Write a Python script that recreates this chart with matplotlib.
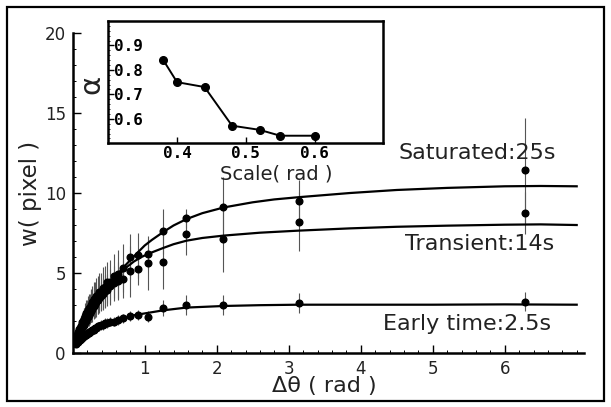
import matplotlib
matplotlib.use("Agg")
import matplotlib.pyplot as plt
from matplotlib.patches import Rectangle
from matplotlib.ticker import MultipleLocator, FormatStrFormatter

plt.rcParams["font.family"] = ["DejaVu Sans", "Noto Sans CJK SC"]

# ---- data ----
# sparse scales (rad) and the dense cluster near zero
x_sparse = [6.28, 3.14, 2.09, 1.57, 1.26, 1.05, 0.90, 0.79]
x_dense = [0.70, 0.63, 0.57, 0.52, 0.48, 0.45, 0.42, 0.39, 0.37, 0.35,
           0.33, 0.31, 0.30, 0.29, 0.27, 0.26, 0.25, 0.24, 0.23, 0.22,
           0.21, 0.20, 0.19, 0.18, 0.17, 0.16, 0.15, 0.14, 0.13, 0.12,
           0.11, 0.10, 0.09, 0.08, 0.07, 0.06, 0.05, 0.04]

sat_sparse = [11.4, 9.5, 9.1, 8.4, 7.6, 6.15, 6.1, 6.0]
sat_sparse_err = [3.3, 1.3, 1.9, 0.6, 1.4, 0.9, 1.4, 1.4]
sat_dense = [5.3, 4.9, 4.8, 4.4, 4.4, 4.1, 4.05, 3.8, 3.8, 3.6,
             3.55, 3.3, 3.35, 3.15, 3.15, 2.95, 3.0, 2.8, 2.8, 2.65,
             2.65, 2.5, 2.5, 2.3, 2.3, 2.1, 2.1, 1.9, 1.9, 1.7,
             1.7, 1.5, 1.5, 1.3, 1.25, 1.1, 1.0, 0.85]
sat_dense_err = [1.5, 1.5, 1.4, 1.4, 1.3, 1.3, 1.3, 1.2, 1.2, 1.2,
                 1.1, 1.1, 1.1, 1.0, 1.0, 1.0, 1.0, 0.9, 0.9, 0.9,
                 0.9, 0.8, 0.8, 0.8, 0.8, 0.7, 0.7, 0.7, 0.6, 0.6,
                 0.6, 0.5, 0.5, 0.5, 0.4, 0.4, 0.4, 0.3]

trans_sparse = [8.75, 8.2, 7.1, 7.4, 5.7, 5.6, 5.25, 5.1]
trans_sparse_err = [1.3, 1.85, 2.05, 1.3, 1.7, 1.7, 1.0, 1.6]
trans_dense = [4.6, 4.5, 4.35, 4.15, 3.95, 3.85, 3.65, 3.55, 3.4, 3.3,
               3.15, 3.05, 2.95, 2.9, 2.75, 2.65, 2.6, 2.5, 2.4, 2.35,
               2.25, 2.2, 2.1, 2.0, 1.95, 1.85, 1.75, 1.65, 1.6, 1.5,
               1.4, 1.3, 1.25, 1.15, 1.05, 0.95, 0.85, 0.75]
trans_dense_err = [1.2, 1.2, 1.1, 1.1, 1.0, 1.0, 1.0, 0.9, 0.9, 0.9,
                   0.9, 0.8, 0.8, 0.8, 0.8, 0.7, 0.7, 0.7, 0.7, 0.6,
                   0.6, 0.6, 0.6, 0.5, 0.5, 0.5, 0.5, 0.4, 0.4, 0.4,
                   0.4, 0.3, 0.3, 0.3, 0.3, 0.3, 0.2, 0.2]

early_sparse = [3.2, 3.1, 2.98, 2.98, 2.77, 2.25, 2.36, 2.3]
early_sparse_err = [0.57, 0.62, 0.6, 0.6, 0.5, 0.35, 0.3, 0.3]
early_dense = [2.15, 2.05, 1.95, 1.95, 1.85, 1.85, 1.75, 1.75, 1.65, 1.65,
               1.55, 1.55, 1.5, 1.45, 1.42, 1.38, 1.36, 1.32, 1.3, 1.26,
               1.23, 1.2, 1.16, 1.13, 1.1, 1.06, 1.02, 0.98, 0.94, 0.9,
               0.86, 0.82, 0.78, 0.74, 0.7, 0.65, 0.6, 0.55]
early_dense_err = [0.3] * 10 + [0.25] * 14 + [0.2] * 14

# fitted curves
sat_fit_x = [0, 0.02, 0.05, 0.1, 0.19, 0.3, 0.45, 0.6, 0.75, 0.9, 1.0, 1.1,
             1.26, 1.4, 1.58, 1.8, 2.1, 2.5, 2.8, 3.14, 3.85, 4.5, 5.2, 6.0, 6.5, 7.0]
sat_fit_y = [0.35, 0.6, 1.0, 1.6, 2.45, 3.25, 4.1, 4.8, 5.55, 6.25, 6.7, 7.05,
             7.55, 7.95, 8.35, 8.72, 9.08, 9.4, 9.58, 9.72, 9.98, 10.17, 10.3, 10.4, 10.42, 10.4]
trans_fit_x = [0, 0.02, 0.05, 0.1, 0.2, 0.3, 0.45, 0.66, 0.75, 0.85, 0.95, 1.06,
               1.26, 1.4, 1.58, 1.8, 2.1, 2.6, 3.14, 3.85, 4.5, 5.2, 6.0, 6.5, 7.0]
trans_fit_y = [0.35, 0.6, 1.0, 1.55, 2.35, 3.0, 3.8, 4.95, 5.35, 5.7, 5.97, 6.2,
               6.55, 6.78, 7.0, 7.17, 7.32, 7.5, 7.63, 7.77, 7.87, 7.94, 8.0, 8.02, 7.98]
early_fit_x = [0, 0.02, 0.05, 0.1, 0.17, 0.31, 0.49, 0.66, 0.86, 1.06, 1.26,
               1.58, 2.1, 2.6, 3.14, 4.0, 5.0, 6.0, 7.0]
early_fit_y = [0.35, 0.45, 0.6, 0.8, 1.0, 1.42, 1.85, 2.1, 2.35, 2.5, 2.65,
               2.82, 2.92, 2.97, 3.0, 3.0, 3.0, 3.02, 3.0]

# inset: exponent vs scale
inset_scale = [0.38, 0.40, 0.44, 0.48, 0.52, 0.55, 0.60]
inset_alpha = [0.84, 0.75, 0.73, 0.572, 0.555, 0.531, 0.531]

W, H = 611, 407
fig = plt.figure(figsize=(W / 100, H / 100), dpi=100)

# outer frame
fig.patches.append(Rectangle((7 / W, 1 - 401 / H), 597 / W, 394 / H,
                             transform=fig.transFigure, fill=False,
                             edgecolor="black", linewidth=1.6))

ax = fig.add_axes([72.7 / W, 1 - 352.7 / H, 511.2 / W, 320 / H])
series = [
    (sat_sparse + sat_dense, sat_sparse_err + sat_dense_err),
    (trans_sparse + trans_dense, trans_sparse_err + trans_dense_err),
    (early_sparse + early_dense, early_sparse_err + early_dense_err),
]
x_all = x_sparse + x_dense
for ys, errs in series:
    ax.errorbar(x_all, ys, yerr=errs, fmt="none", ecolor="#555555",
                elinewidth=0.8, capsize=0, zorder=2)
    ax.plot(x_all, ys, "o", color="black", ms=4.8, zorder=3)

for fx, fy in [(sat_fit_x, sat_fit_y), (trans_fit_x, trans_fit_y),
               (early_fit_x, early_fit_y)]:
    ax.plot(fx, fy, color="black", lw=1.6, zorder=4)

ax.set_xlim(0, 7.1)
ax.set_ylim(0, 20)
ax.set_xticks([1, 2, 3, 4, 5, 6])
ax.set_yticks([0, 5, 10, 15, 20])
ax.xaxis.set_minor_locator(MultipleLocator(0.2))
ax.yaxis.set_minor_locator(MultipleLocator(1))
ax.tick_params(which="major", direction="in", length=6, width=1.0,
               labelsize=12, pad=5, labelcolor="#222222")
ax.tick_params(which="minor", direction="in", length=2.5, width=0.7)
for side in ["top", "right"]:
    ax.spines[side].set_visible(False)
for side in ["left", "bottom"]:
    ax.spines[side].set_linewidth(1.8)

ax.text(4.52, 12.5, "Saturated:25s", fontsize=16, va="center", color="#222222")
ax.text(4.62, 6.8, "Transient:14s", fontsize=16, va="center", color="#222222")
ax.text(4.31, 1.8, "Early time:2.5s", fontsize=16, va="center", color="#222222")

fig.text(31 / W, 1 - 193 / H, "w( pixel )", rotation=90, fontsize=16.5,
         ha="center", va="center", color="#222222")
fig.text(324 / W, 1 - 386 / H, "Δθ ( rad )", fontsize=16,
         ha="center", va="center", color="#222222")

# inset
axin = fig.add_axes([108.3 / W, 1 - 143.3 / H, 275 / W, 122.3 / H])
axin.plot(inset_scale, inset_alpha, "-o", color="black", lw=1.4, ms=5.5)
axin.set_xlim(0.3, 0.7)
axin.set_ylim(0.5, 1.0)
axin.set_xticks([0.4, 0.5, 0.6])
axin.set_yticks([0.6, 0.7, 0.8, 0.9])
axin.yaxis.set_minor_locator(MultipleLocator(0.02))
axin.xaxis.set_major_formatter(FormatStrFormatter("%.1f"))
axin.yaxis.set_major_formatter(FormatStrFormatter("%.1f"))
axin.tick_params(which="major", direction="in", length=4, width=1.0, labelsize=11.5)
axin.tick_params(which="minor", direction="in", length=1.5, width=0.6)
axin.tick_params(axis="x", pad=2)
axin.tick_params(axis="y", pad=-4)
for lab in axin.get_yticklabels() + axin.get_xticklabels():
    lab.set_fontfamily("DejaVu Sans Mono")
    lab.set_fontweight("bold")
for lab in axin.get_yticklabels():
    lab.set_horizontalalignment("left")
for sp in axin.spines.values():
    sp.set_linewidth(1.8)

fig.text(276 / W, 1 - 174 / H, "Scale( rad )", fontsize=14,
         ha="center", va="center", color="#222222")
fig.text(91 / W, 1 - 84 / H, "α", rotation=90, fontsize=21,
         ha="center", va="center", color="#222222")

fig.savefig("out.png", dpi=100)
